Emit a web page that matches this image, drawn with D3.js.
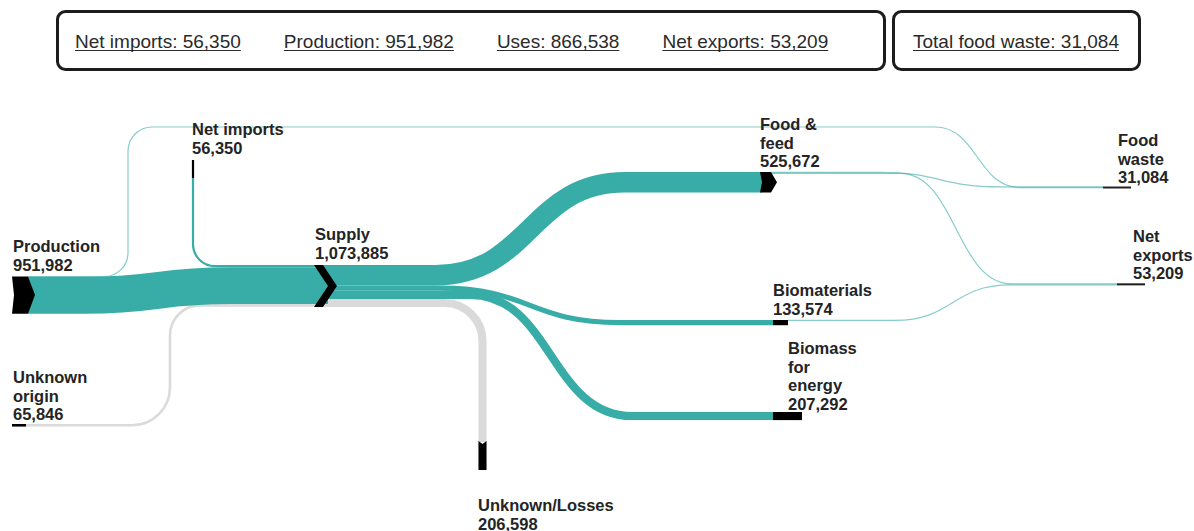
<!DOCTYPE html>
<html>
<head>
<meta charset="utf-8">
<script src="https://cdn.jsdelivr.net/npm/d3@7"></script>
<style>
html,body{margin:0;padding:0;background:#fff;}
svg{display:block;}
</style>
</head>
<body>
<svg id="chart" width="1194" height="531"></svg>
<script>
// ---------------- DATA ----------------
const headerLabels = ["Net imports", "Production", "Uses", "Net exports"];
const headerValues = [56350, 951982, 866538, 53209];
const wasteHeaderLabel = "Total food waste";
const wasteHeaderValue = 31084;

const nodeNames = ["Production", "Net imports", "Unknown origin", "Supply", "Unknown/Losses",
                   "Food & feed", "Biomaterials", "Biomass for energy", "Food waste", "Net exports"];
const nodeValues = [951982, 56350, 65846, 1073885, 206598, 525672, 133574, 207292, 31084, 53209];
const nodeLabelLines = [["Production"], ["Net imports"], ["Unknown", "origin"], ["Supply"], ["Unknown/Losses"],
                        ["Food &", "feed"], ["Biomaterials"], ["Biomass", "for", "energy"], ["Food", "waste"], ["Net", "exports"]];

const linkSources = ["Production", "Net imports", "Unknown origin", "Supply", "Supply", "Supply", "Supply",
                     "Production", "Food & feed", "Food & feed", "Biomaterials"];
const linkTargets = ["Supply", "Supply", "Supply", "Food & feed", "Biomaterials", "Biomass for energy", "Unknown/Losses",
                     "Food waste", "Food waste", "Net exports", "Net exports"];
const linkValues = [942982, 56350, 65846, 525672, 133574, 207292, 206598, 9000, 22084, 30000, 23209];
const linkKinds = ["known", "known", "unknown", "known", "known", "known", "unknown", "known", "known", "known", "known"];

// ---------------- LAYOUT / STYLE ----------------
const teal = "#38aca7", grey = "#dadada", ink = "#000", textInk = "#242424";
const font = "'Liberation Sans', Arial, Helvetica, sans-serif";
const fmt = d3.format(",");
const wScale = d3.scaleLinear().domain([0, d3.max(nodeValues)]).range([0, 42]);

const layout = {
  "Production":        {kind: "h", x: 12,   y: 276.5, len: 23, shape: "arrow",   tip: 7,  label: [13, 252]},
  "Net imports":       {kind: "v", cx: 193, y: 160,   len: 18, shape: "bar",              label: [192, 135]},
  "Unknown origin":    {kind: "h", x: 12,   y: 424,   len: 14, shape: "bar",              label: [13, 383]},
  "Supply":            {kind: "h", x: 314,  y: 265,   len: 23, shape: "chevron", tip: 14, label: [315, 240]},
  "Unknown/Losses":    {kind: "v", cx: 482.5, y: 441, len: 29, shape: "notch",            label: [478, 511]},
  "Food & feed":       {kind: "h", x: 760,  y: 172,   len: 17, shape: "arrow",   tip: 6,  label: [760, 130]},
  "Biomaterials":      {kind: "h", x: 773,  y: 320,   len: 15, shape: "bar",              label: [773, 296]},
  "Biomass for energy":{kind: "h", x: 773,  y: 412,   len: 29, shape: "bar",              label: [788, 354]},
  "Food waste":        {kind: "h", x: 1103, y: 186.5, len: 28, shape: "bar",              label: [1118, 146]},
  "Net exports":       {kind: "h", x: 1117, y: 283.3, len: 28, shape: "bar",              label: [1133, 242]}
};

const routes = {
  "Production→Supply":          (s, t) => [["S", 85, 230, t.x, t.y]],
  "Net imports→Supply":         (s, t) => [["C", s.x, t.y, 22], ["L", t.x, t.y]],
  "Unknown origin→Supply":      (s, t) => [["C", 170, s.y, 38], ["C", 170, t.y, 30], ["L", t.x, t.y]],
  "Supply→Food & feed":         (s, t) => [["S", 435, 625, t.x, t.y]],
  "Supply→Biomaterials":        (s, t) => [["S", 440, 620, t.x, t.y]],
  "Supply→Biomass for energy":  (s, t) => [["S", 470, 632, t.x, t.y]],
  "Supply→Unknown/Losses":      (s, t) => [["C", t.x, s.y, 38], ["L", t.x, t.y]],
  "Production→Food waste":      (s, t) => [["C", 128, s.y, 24], ["C", 128, 127, 24], ["S", 935, 1020, t.x, t.y]],
  "Food & feed→Food waste":     (s, t) => [["S", 880, 1000, t.x, t.y]],
  "Food & feed→Net exports":    (s, t) => [["S", 900, 1012, t.x, t.y]],
  "Biomaterials→Net exports":   (s, t) => [["S", 895, 1010, t.x, t.y]]
};

// ---------------- BUILD ----------------
const svg = d3.select("#chart");

const nodes = nodeNames.map((name, i) => {
  const L = layout[name];
  const n = Object.assign({name, value: nodeValues[i], lines: nodeLabelLines[i]}, L);
  n.th = Math.max(2, wScale(n.value));
  if (n.kind === "h") {
    n.inX = n.shape === "chevron" ? n.x + n.tip : (n.shape === "arrow" ? n.x + 2 : n.x);
    n.outX = (n.shape === "arrow" || n.shape === "chevron") ? n.x + n.len - n.tip : n.x + n.len;
  }
  return n;
});
const byName = new Map(nodes.map(n => [n.name, n]));

const links = linkSources.map((s, i) => ({
  source: byName.get(s), target: byName.get(linkTargets[i]),
  value: linkValues[i], kind: linkKinds[i], w: wScale(linkValues[i])
}));

nodes.forEach(n => {
  const outs = links.filter(l => l.source === n).sort((a, b) => a.target.y - b.target.y);
  let off = 0;
  outs.forEach(l => {
    if (n.kind === "v") { l.sx = n.cx; l.sy = n.y + n.len; }
    else { l.sx = n.outX; l.sy = n.y + off + l.w / 2; off += l.w; }
  });
  const ins = links.filter(l => l.target === n).sort((a, b) => a.source.y - b.source.y);
  off = 0;
  ins.forEach(l => {
    if (n.kind === "v") { l.tx = n.cx; l.ty = n.y + 1; }
    else { l.tx = n.inX; l.ty = n.y + off + l.w / 2; off += l.w; }
  });
});

function buildPath(sx, sy, tokens) {
  const p = d3.path();
  p.moveTo(sx, sy);
  let cy = sy;
  tokens.forEach((tk, i) => {
    if (tk[0] === "C") {
      const nx = tokens[i + 1];
      const px = nx[1], py = nx[0] === "S" ? tk[2] : nx[2];
      p.arcTo(tk[1], tk[2], px, py, tk[3]);
      cy = tk[2];
    } else if (tk[0] === "L") {
      p.lineTo(tk[1], tk[2]); cy = tk[2];
    } else if (tk[0] === "S") {
      const [, xa, xb, x1, y1] = tk;
      p.lineTo(xa, cy);
      const m = (xa + xb) / 2;
      p.bezierCurveTo(m, cy, m, y1, xb, y1);
      p.lineTo(x1, y1);
      cy = y1;
    }
  });
  return p.toString();
}

links.forEach(l => {
  const key = l.source.name + "→" + l.target.name;
  l.d = buildPath(l.sx, l.sy, routes[key]({x: l.sx, y: l.sy}, {x: l.tx, y: l.ty}));
});

// links
svg.append("g").attr("fill", "none")
  .selectAll("path")
  .data(links.slice().sort((a, b) => a.w - b.w))
  .join("path")
  .attr("d", d => d.d)
  .attr("stroke", d => d.kind === "unknown" ? grey : teal)
  .attr("stroke-opacity", d => d.kind === "known" && d.w < 1.5 ? 0.6 : 1)
  .attr("stroke-width", d => Math.max(1.2, d.w));

// nodes
function nodeShape(n) {
  if (n.kind === "v") {
    const x0 = n.cx - n.th / 2, x1 = n.cx + n.th / 2, y0 = n.y, y1 = n.y + n.len;
    if (n.shape === "notch") return [[x0, y0], [n.cx, y0 + 3], [x1, y0], [x1, y1], [x0, y1]];
    return [[x0, y0], [x1, y0], [x1, y1], [x0, y1]];
  }
  const x0 = n.x, x1 = n.x + n.len, y0 = n.y, y1 = n.y + n.th, ym = (y0 + y1) / 2;
  if (n.shape === "arrow") return [[x0, y0], [x1 - n.tip, y0], [x1, ym], [x1 - n.tip, y1], [x0, y1], [x0 + 2, ym]];
  if (n.shape === "chevron") return [[x0, y0], [x1 - n.tip, y0], [x1, ym], [x1 - n.tip, y1], [x0, y1], [x0 + n.tip, ym]];
  return [[x0, y0], [x1, y0], [x1, y1], [x0, y1]];
}
const line = d3.line();
svg.append("g").selectAll("path")
  .data(nodes)
  .join("path")
  .attr("d", d => line(nodeShape(d)) + "Z")
  .attr("fill", d => d.th <= 2.1 && d.kind === "h" ? "#222" : ink);

// labels
const lg = svg.append("g")
  .attr("font-family", font).attr("font-size", "16.5px").attr("font-weight", "bold").attr("fill", textInk);
nodes.forEach(n => {
  const t = lg.append("text").attr("x", n.label[0]).attr("y", n.label[1]);
  n.lines.concat([fmt(n.value)]).forEach((s, i) => {
    t.append("tspan").attr("x", n.label[0]).attr("dy", i === 0 ? 0 : 18.5).text(s);
  });
});

// header
const hg = svg.append("g");
hg.append("rect").attr("x", 57.5).attr("y", 11.5).attr("width", 827).attr("height", 58).attr("rx", 8)
  .attr("fill", "#fff").attr("stroke", "#1c1c1c").attr("stroke-width", 3);
hg.append("rect").attr("x", 893.5).attr("y", 11.5).attr("width", 246).attr("height", 58).attr("rx", 8)
  .attr("fill", "#fff").attr("stroke", "#1c1c1c").attr("stroke-width", 3);

function headerText(x, str) {
  const t = hg.append("text").attr("x", x).attr("y", 48)
    .attr("font-family", font).attr("font-size", "19px").attr("fill", "#2a2a2a").text(str);
  const len = t.node().getComputedTextLength();
  hg.append("line").attr("x1", x).attr("x2", x + len).attr("y1", 50.5).attr("y2", 50.5)
    .attr("stroke", "#2a2a2a").attr("stroke-width", 1.2);
  return len;
}
let hx = 75;
headerLabels.forEach((lab, i) => {
  const len = headerText(hx, lab + ": " + fmt(headerValues[i]));
  hx += len + 43;
});
headerText(913, wasteHeaderLabel + ": " + fmt(wasteHeaderValue));
</script>
</body>
</html>
